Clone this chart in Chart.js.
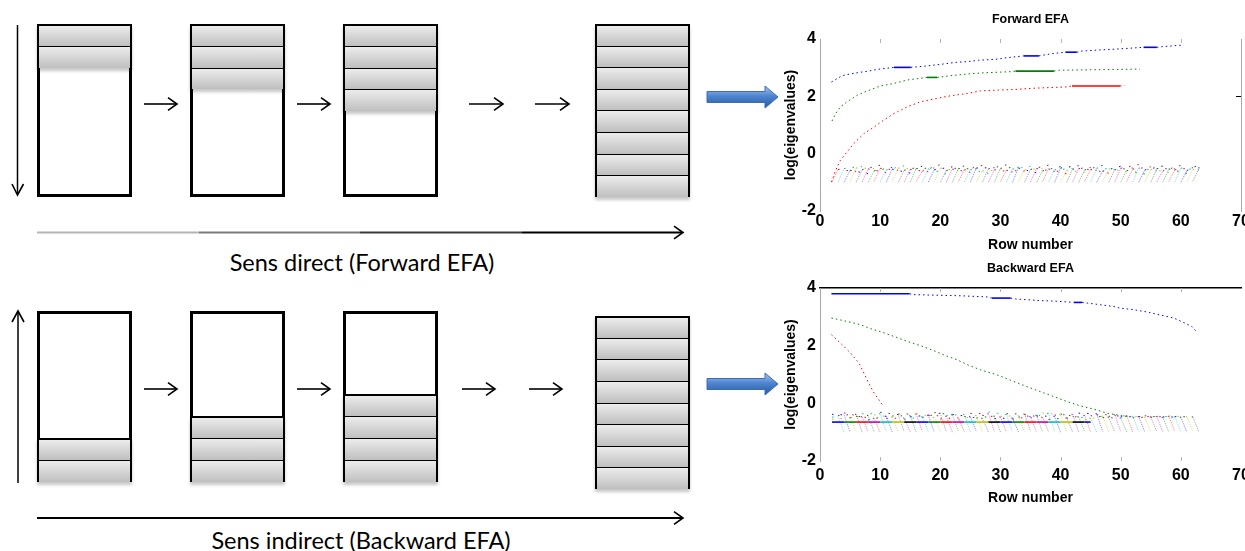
<!DOCTYPE html>
<html><head><meta charset="utf-8">
<script src="https://cdn.jsdelivr.net/npm/chart.js@4.4.0/dist/chart.umd.min.js"></script>
<style>
html,body{margin:0;padding:0;background:#fff;}
body{width:1245px;height:551px;overflow:hidden;position:relative;}
.white{position:absolute;box-sizing:border-box;border:3.5px solid #000;background:#fff;}
.stack{position:absolute;box-sizing:border-box;border:2px solid #000;box-shadow:0 3px 3px rgba(0,0,0,0.22);}
.cell{position:absolute;left:0;right:0;box-sizing:border-box;background:linear-gradient(#ececec,#bfbfbf);}
.cell+.cell{border-top:1.5px solid #000;}
.cap{position:absolute;font-family:Lato,"Open Sans",sans-serif;font-size:23.5px;color:#000;white-space:nowrap;transform:translate(-50%,-50%);}
canvas{position:absolute;}
svg{position:absolute;left:0;top:0;}
</style></head>
<body>
<div id="diagram"></div>
<svg width="1245" height="551" id="arrows">
 <defs>
  <linearGradient id="lg" gradientUnits="userSpaceOnUse" x1="37" x2="683" y1="0" y2="0">
   <stop offset="0" stop-color="#b5b5b5"/><stop offset="0.25" stop-color="#b5b5b5"/>
   <stop offset="0.25" stop-color="#7a7a7a"/><stop offset="0.5" stop-color="#7a7a7a"/>
   <stop offset="0.5" stop-color="#3a3a3a"/><stop offset="0.75" stop-color="#3a3a3a"/>
   <stop offset="0.75" stop-color="#000"/><stop offset="1" stop-color="#000"/>
  </linearGradient>
  <linearGradient id="blue" x1="0" x2="0" y1="0" y2="1">
   <stop offset="0" stop-color="#a9c6ee"/><stop offset="0.45" stop-color="#4f86d0"/><stop offset="1" stop-color="#27599f"/>
  </linearGradient>
 </defs>
</svg>
<div class="cap" style="left:362px;top:262px">Sens direct (Forward EFA)</div>
<div class="cap" style="left:361px;top:540px">Sens indirect (Backward EFA)</div>
<canvas id="fwd" width="480" height="260" style="left:780px;top:0px"></canvas>
<canvas id="bwd" width="480" height="262" style="left:780px;top:249px"></canvas>
<script>
// ---------------- DATA ----------------
const xTicks = [0, 10, 20, 30, 40, 50, 60, 70];
const yTicks = [-2, 0, 2, 4];

// Forward EFA main eigenvalues
const fwdBlueX = [1.9,3.7,4.5,6.7,7.8,9.5,12.3,15.1,17.8,20.6,22.8,24.5,26.4,29.2,31.1,33.9,36.4,38.3,40.8,42.7,43.6,46.6,49.4,53.8,56,56.8,60.4];
const fwdBlueY = [2.5,2.72,2.76,2.84,2.87,2.94,3.01,3.01,3.06,3.13,3.19,3.21,3.26,3.29,3.35,3.41,3.41,3.48,3.54,3.54,3.58,3.62,3.65,3.71,3.71,3.73,3.79];
const fwdBlueSolid = [6,15,18,23];
const fwdGreenX = [2,2.6,3.4,4.5,6.2,7.9,10,12.3,14.5,16.7,17.8,19.5,21.7,24.5,27.2,31.7,32.5,38.9,39.7,53.2];
const fwdGreenY = [1.14,1.4,1.63,1.81,2.04,2.19,2.36,2.45,2.57,2.63,2.66,2.66,2.72,2.78,2.82,2.86,2.88,2.88,2.91,2.95];
const fwdGreenSolid = [10,16];
const fwdRedX = [1.9,2.6,3.4,4.5,5.6,7.3,9,10.6,12.3,14.5,16.7,19.5,21.7,24.5,26.7,29.7,32.5,35.2,41.1,41.9,49.9,50.7];
const fwdRedY = [-0.99,-0.58,-0.23,0.06,0.35,0.7,0.93,1.17,1.4,1.63,1.81,1.93,2.02,2.1,2.19,2.22,2.24,2.28,2.33,2.36,2.36,2.38];
const fwdRedSolid = [19];

// Backward EFA main eigenvalues
const bwdBlueX = [1.9,14.9,15.6,23.4,27.8,28.6,31.7,32.5,36.1,39.4,42.2,43.6,46.6,48.8,49.9,52.1,54.3,57.1,58.8,60.4,61.8,62.6];
const bwdBlueY = [3.8,3.8,3.77,3.73,3.69,3.65,3.65,3.62,3.57,3.54,3.5,3.5,3.42,3.36,3.3,3.25,3.17,3.04,2.96,2.81,2.67,2.49];
const bwdBlueSolid = [0,5,10];
const bwdGreenX = [1.9,4.5,6.7,8.4,10,12.3,14.5,16.7,18.9,20.6,22.8,24.5,26.7,29.4,32.2,34.4,36.6,38.8,41.1,43.3,45.5,47.7,49.4,51];
const bwdGreenY = [2.96,2.84,2.73,2.59,2.49,2.32,2.15,2.0,1.83,1.68,1.51,1.34,1.16,0.99,0.76,0.58,0.41,0.24,0.06,-0.09,-0.2,-0.34,-0.4,-0.46];
const bwdGreenSolid = [];
const bwdRedX = [1.9,3.4,5.1,6.5,7.3,8.1,9,9.8,10.5];
const bwdRedY = [2.38,2.09,1.74,1.39,1.05,0.7,0.35,0.12,-0.09];
const bwdRedSolid = [];

// Backward: overlapping flat noise eigenvalues
const bwdFlatX = [2,4,6,8,10,12,14,16,18,20,22,24,26,28,30,32,34,36,38,40,42,44,45];
const bwdFlatY = [-0.65,-0.65,-0.65,-0.65,-0.65,-0.65,-0.65,-0.65,-0.65,-0.65,-0.65,-0.65,-0.65,-0.65,-0.65,-0.65,-0.65,-0.65,-0.65,-0.65,-0.65,-0.65,-0.65];

// Noise eigenvalues (one per starting row)
const noiseRows = [2,3,4,5,6,7,8,9,10,11,12,13,14,15,16,17,18,19,20,21,22,23,24,25,26,27,28,29,30,31,32,33,34,35,36,37,38,39,40,41,42,43,44,45,46,47,48,49,50,51,52,53,54,55,56,57,58,59,60,61,62,63];
const fwdNoiseLow = [-1.00,-0.99,-1.00,-0.98,-1.00,-0.99,-1.00,-0.97,-0.99,-1.00,
 -0.98,-1.00,-0.99,-1.00,-0.97,-1.00,-0.99,-0.98,-1.00,-0.99,
 -1.00,-0.97,-0.99,-1.00,-0.98,-1.00,-0.99,-1.00,-0.97,-0.99,
 -1.00,-0.98,-1.00,-0.99,-1.00,-0.97,-0.99,-1.00,-0.98,-1.00,
 -0.99,-1.00,-0.97,-0.99,-1.00,-0.98,-1.00,-0.99,-1.00,-0.97,
 -0.99,-1.00,-0.98,-1.00,-0.99,-1.00,-0.97,-0.99,-1.00,-0.98,-0.96,-0.95];
const fwdNoiseHigh = [-0.55,-0.52,-0.58,-0.50,-0.56,-0.53,-0.60,-0.51,-0.57,-0.54,
 -0.50,-0.58,-0.55,-0.52,-0.61,-0.53,-0.56,-0.50,-0.59,-0.54,
 -0.52,-0.57,-0.55,-0.50,-0.60,-0.53,-0.56,-0.51,-0.58,-0.54,
 -0.50,-0.57,-0.55,-0.52,-0.60,-0.53,-0.56,-0.50,-0.59,-0.54,
 -0.52,-0.57,-0.55,-0.50,-0.61,-0.53,-0.56,-0.51,-0.58,-0.54,
 -0.50,-0.57,-0.55,-0.52,-0.60,-0.53,-0.56,-0.50,-0.59,-0.54,-0.52,-0.55];
const fwdNoiseTail = [-0.62,-0.45,-0.70,-0.52,-0.40,-0.66,-0.48,-0.58,-0.42,-0.68,
 -0.55,-0.44,-0.63,-0.50,-0.38,-0.71,-0.46,-0.60,-0.43,-0.65,
 -0.53,-0.41,-0.69,-0.49,-0.57,-0.39,-0.64,-0.47,-0.61,-0.44,
 -0.67,-0.51,-0.40,-0.62,-0.45,-0.70,-0.52,-0.42,-0.66,-0.48,
 -0.58,-0.41,-0.68,-0.55,-0.44,-0.63,-0.50,-0.38,-0.71,-0.46,
 -0.60,-0.43,-0.65,-0.53,-0.41,-0.69,-0.49,-0.57,-0.39,-0.64,-0.47,-0.60];
const bwdNoiseHigh = [-0.35,-0.45,-0.40,-0.50,-0.38,-0.47,-0.42,-0.52,-0.36,-0.44,
 -0.48,-0.39,-0.51,-0.43,-0.37,-0.46,-0.41,-0.49,-0.34,-0.45,
 -0.40,-0.50,-0.38,-0.47,-0.42,-0.52,-0.36,-0.44,-0.48,-0.39,
 -0.51,-0.43,-0.37,-0.46,-0.41,-0.49,-0.34,-0.45,-0.40,-0.50,
 -0.38,-0.47,-0.42,-0.52,-0.36,-0.44,-0.48,-0.39,-0.51,-0.43,
 -0.45,-0.46,-0.48,-0.47,-0.46,-0.49,-0.45,-0.47,-0.48,-0.46,-0.47,-0.48];
const bwdNoiseLow = [-0.98,-1.00,-0.99,-0.97,-1.00,-0.98,-0.99,-1.00,-0.97,-0.99,
 -1.00,-0.98,-0.99,-1.00,-0.97,-0.99,-1.00,-0.98,-0.99,-1.00,
 -0.97,-0.99,-1.00,-0.98,-0.99,-1.00,-0.97,-0.99,-1.00,-0.98,
 -0.99,-1.00,-0.97,-0.99,-1.00,-0.98,-0.99,-1.00,-0.97,-0.99,
 -1.00,-0.98,-0.99,-1.00,-0.97,-0.99,-1.00,-0.98,-0.99,-1.00,
 -0.97,-0.99,-1.00,-0.98,-0.99,-1.00,-0.97,-0.99,-1.00,-0.98,-0.99,-1.00];
const bwdNoiseTail = [-0.30,-0.48,-0.38,-0.55,-0.42,-0.33,-0.50,-0.45,-0.36,-0.58,
 -0.40,-0.31,-0.52,-0.44,-0.37,-0.56,-0.47,-0.34,-0.49,-0.41,
 -0.32,-0.54,-0.43,-0.38,-0.57,-0.46,-0.35,-0.51,-0.42,-0.30,
 -0.53,-0.45,-0.36,-0.55,-0.48,-0.39,-0.50,-0.44,-0.33,-0.56,
 -0.41,-0.37,-0.52,-0.46,-0.34,-0.58,-0.43,-0.40,-0.49,-0.45,
 -0.42,-0.47,-0.44,-0.50,-0.46,-0.43,-0.48,-0.45,-0.47,-0.44,-0.46,-0.48];

// ---------------- STYLE ----------------
const C_BLUE = '#0000ff', C_GREEN = '#008000', C_RED = '#ff0000';
const noiseColors = ['#ff0000','#00bfbf','#0000ff','#bfbf00','#404040','#bf00bf','#008000'];
const flatColors = ['#0000ff','#008000','#ff0000','#bf00bf','#00bfbf','#bfbf00','#000000'];
const FONT = '"Liberation Sans",Arial,sans-serif';

function rgba(hex, a){const n=parseInt(hex.slice(1),16);return `rgba(${n>>16&255},${n>>8&255},${n&255},${a})`;}

function curve(xs, ys, solid, color){
  return {data: xs.map((v,i)=>({x:v,y:ys[i]})), showLine:true, pointRadius:0, borderColor:color, borderWidth:1,
    segment:{borderDash: c => solid.includes(c.p0DataIndex) ? [] : [1.5,3],
             borderWidth: c => solid.includes(c.p0DataIndex) ? 1.6 : 1}};
}

function fwdNoise(){
  const out=[];
  for(let i=0;i<noiseRows.length-1;i++){
    const col = noiseColors[i%noiseColors.length];
    const tailIdx = Math.min(i+4, noiseRows.length-1);
    out.push({data:[{x:noiseRows[i],y:fwdNoiseLow[i]},{x:noiseRows[i+1],y:fwdNoiseHigh[i]},{x:noiseRows[tailIdx],y:fwdNoiseTail[i]}],
      showLine:true, pointRadius:0, borderWidth:1, borderColor:col,
      segment:{borderDash:c=>c.p0DataIndex===0?[1,1]:[1.5,7], borderColor:c=>c.p0DataIndex===0?rgba(col,0.5):col}});
  }
  return out;
}
function bwdNoise(){
  const out=[];
  for(let i=1;i<noiseRows.length-1;i++){
    const col = noiseColors[i%noiseColors.length];
    const tailIdx = Math.max(i-3, 0);
    out.push({data:[{x:noiseRows[tailIdx],y:bwdNoiseTail[i]},{x:noiseRows[i],y:bwdNoiseHigh[i]},{x:noiseRows[i+1],y:bwdNoiseLow[i]}],
      showLine:true, pointRadius:0, borderWidth:1, borderColor:col,
      segment:{borderDash:c=>c.p0DataIndex===1?[1,1]:[1.5,7], borderColor:c=>c.p0DataIndex===1?rgba(col,0.5):col}});
  }
  return out;
}

const innerTicks = {
  id:'innerTicks',
  afterDraw(chart, args, o){
    const {ctx, chartArea:a, scales:{x,y}} = chart;
    ctx.save();
    ctx.strokeStyle='#b4b4b4'; ctx.lineWidth=1; ctx.beginPath();
    xTicks.slice(1,-1).forEach(v=>{
      const px=Math.round(x.getPixelForValue(v))+0.5;
      if(o.top){ctx.moveTo(px,a.top); ctx.lineTo(px,a.top+4);}
      if(o.bottom){ctx.moveTo(px,a.bottom); ctx.lineTo(px,a.bottom-4);}
    });
    ctx.stroke();
    if(o.rightTick!==undefined){
      const py=Math.round(y.getPixelForValue(o.rightTick))+0.5;
      ctx.strokeStyle='#000'; ctx.beginPath(); ctx.moveTo(a.right-5,py); ctx.lineTo(a.right,py); ctx.stroke();
    }
    ctx.restore();
  }
};

function build(id, p){
  const tickFont={family:FONT,size:16,weight:'bold'};
  const titleFont={family:FONT,size:14,weight:'bold'};
  new Chart(document.getElementById(id), {
    type:'scatter',
    data:{datasets:p.datasets},
    plugins:[innerTicks],
    options:{
      responsive:false, animation:false, devicePixelRatio:1,
      layout:{padding:{left:0,right:19,top:0,bottom:0}},
      plugins:{legend:{display:false}, tooltip:{enabled:false},
        title:{display:true, text:p.title, fullSize:false, color:'#000', font:{family:FONT,size:12.5,weight:'bold'}, padding:{top:p.titleTop,bottom:p.titleBottom}},
        innerTicks:p.ticks},
      scales:{
        x:{type:'linear', position:'bottom', min:0, max:70,
          afterBuildTicks: s=>{s.ticks = xTicks.map(v=>({value:v}));},
          ticks:{font:tickFont, color:'#000', padding:p.xTickPad, maxRotation:0, autoSkip:false},
          grid:{display:false, drawTicks:false}, border:{display:false},
          title:{display:true, text:'Row number', color:'#000', font:titleFont, padding:{top:0,bottom:p.xTitlePad}},
          afterFit: s=>{s.height=p.xHeight;}},
        x2:{type:'linear', position:'top', min:0, max:70, display:p.topBorder,
          ticks:{display:false}, grid:{display:false, drawTicks:false}, border:{display:true,color:'#000',width:1.5},
          afterFit: s=>{s.height=0;}},
        y:{type:'linear', position:'left', min:-2, max:4,
          afterBuildTicks: s=>{s.ticks = yTicks.map(v=>({value:v}));},
          ticks:{font:tickFont, color:'#000', padding:4},
          grid:{display:false, drawTicks:false}, border:{display:true,color:'#a8a8a8'},
          title:{display:true, text:'log(eigenvalues)', color:'#000', font:titleFont, padding:{top:3,bottom:0}},
          afterFit: s=>{s.width=40;}},
        y2:{type:'linear', position:'right', min:-2, max:4, display:p.rightBorder,
          ticks:{display:false}, grid:{display:false, drawTicks:false}, border:{display:true,color:'#a8a8a8'},
          afterFit: s=>{s.width=0;}}
      }
    }
  });
}

build('fwd', {
  title:'Forward EFA', titleTop:12, titleBottom:12, xTickPad:1, xTitlePad:6, xHeight:49,
  topBorder:false, rightBorder:true, ticks:{top:true,bottom:false,rightTick:2},
  datasets:[curve(fwdBlueX,fwdBlueY,fwdBlueSolid,C_BLUE), curve(fwdGreenX,fwdGreenY,fwdGreenSolid,C_GREEN), curve(fwdRedX,fwdRedY,fwdRedSolid,C_RED)].concat(fwdNoise())
});
build('bwd', {
  title:'Backward EFA', titleTop:12, titleBottom:12, xTickPad:5, xTitlePad:4, xHeight:50,
  topBorder:true, rightBorder:false, ticks:{top:true,bottom:true},
  datasets:[curve(bwdBlueX,bwdBlueY,bwdBlueSolid,C_BLUE), curve(bwdGreenX,bwdGreenY,bwdGreenSolid,C_GREEN), curve(bwdRedX,bwdRedY,bwdRedSolid,C_RED),
    {data:bwdFlatX.map((v,i)=>({x:v,y:bwdFlatY[i]})), showLine:true, pointRadius:0, borderWidth:1.6, borderColor:'#0000ff',
     segment:{borderColor:c=>flatColors[c.p0DataIndex%flatColors.length]}}].concat(bwdNoise())
});

// ---------------- LEFT DIAGRAM ----------------
const diag = document.getElementById('diagram');
function column(left, top, bottom, nCells, cellsAtTop, cellH){
  const W = 95;
  const stackH = nCells*cellH;
  if (stackH < bottom-top-1){
    const w = document.createElement('div'); w.className='white';
    if (cellsAtTop){ w.style.borderTop='none'; w.style.top=(top+stackH-2)+'px'; w.style.height=(bottom-top-stackH+2)+'px'; }
    else { w.style.borderBottom='none'; w.style.top=top+'px'; w.style.height=(bottom-top-stackH+2)+'px'; }
    w.style.left=left+'px'; w.style.width=W+'px';
    diag.appendChild(w);
  }
  const s=document.createElement('div'); s.className='stack';
  s.style.left=left+'px'; s.style.width=W+'px'; s.style.height=stackH+'px';
  s.style.top=(cellsAtTop?top:bottom-stackH)+'px';
  for(let i=0;i<nCells;i++){
    const c=document.createElement('div'); c.className='cell';
    c.style.top=(i*cellH-2)+'px'; c.style.height=cellH+'px';
    if(i===0){c.style.top='0px'; c.style.height=(cellH-2)+'px';}
    s.appendChild(c);
  }
  diag.appendChild(s);
}
column(37,24,197,2,true,21.8);
column(190,24,197,3,true,21.8);
column(343,24,197,4,true,21.8);
column(595,24,197,8,true,21.6);
column(37,311,482,2,false,22);
column(190,311,482,3,false,22);
column(343,311,482,4,false,22);
column(595,316,489,8,false,21.6);

const svg=document.getElementById('arrows');
const NS='http://www.w3.org/2000/svg';
function el(tag, attrs){const e=document.createElementNS(NS,tag);for(const k in attrs)e.setAttribute(k,attrs[k]);svg.appendChild(e);return e;}
function hArrow(x1,x2,y,w,stroke,head){
  el('line',{x1:x1,y1:y,x2:x2-1,y2:y,stroke:stroke,'stroke-width':w});
  el('polyline',{points:`${x2-head},${y-head*0.7} ${x2},${y} ${x2-head},${y+head*0.7}`,fill:'none',stroke:'#000','stroke-width':1.6});
}
[[144,177],[297,330],[469,503],[535,569]].forEach(a=>hArrow(a[0],a[1],104,1.6,'#000',9));
[[144,177],[297,330],[462,495],[529,562]].forEach(a=>hArrow(a[0],a[1],389,1.6,'#000',9));
hArrow(37,683,232.5,2,'url(#lg)',9);
hArrow(37,683,518,2,'#000',9);
el('line',{x1:17.5,y1:25,x2:17.5,y2:194,stroke:'#000','stroke-width':1.5});
el('polyline',{points:'12,184 17.5,195 23.5,184',fill:'none',stroke:'#000','stroke-width':1.6});
el('line',{x1:18,y1:312,x2:18,y2:483,stroke:'#000','stroke-width':1.5});
el('polyline',{points:'12,322 18,311 24,322',fill:'none',stroke:'#000','stroke-width':1.6});
function blueArrow(cy){
  el('polygon',{points:`707,${cy-5.5} 765,${cy-5.5} 765,${cy-11} 778,${cy} 765,${cy+11} 765,${cy+5.5} 707,${cy+5.5}`,
    fill:'url(#blue)',stroke:'#3b6db5','stroke-width':1});
}
blueArrow(97);
blueArrow(384);
</script>
</body></html>
